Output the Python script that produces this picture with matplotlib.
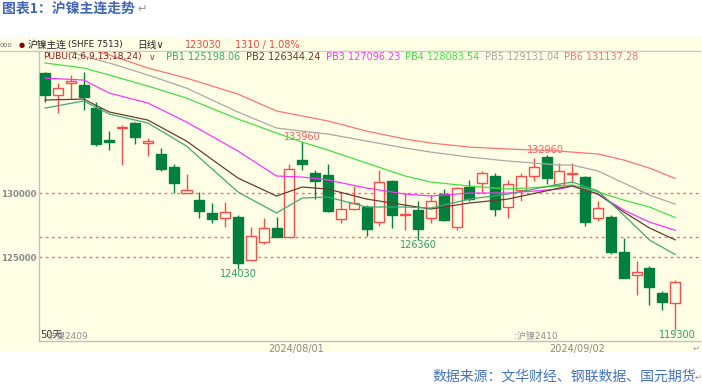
import numpy as np
import matplotlib
matplotlib.use("Agg")
import matplotlib.pyplot as plt
from matplotlib.lines import Line2D
from matplotlib.patches import Rectangle

plt.rcParams['font.family'] = ['DejaVu Sans', 'Noto Sans CJK SC']
plt.rcParams['axes.unicode_minus'] = False

# ---- data ----
opens = [139400, 137680, 138590, 138440, 136660, 134120, 135050, 135490, 133880, 133070,
         132050, 130020, 129450, 128460, 128020, 128100, 124770, 126200, 127240, 126590,
         132580, 131590, 131410, 127950, 128730, 128880, 127760, 130940, 128260, 128670,
         128020, 129900, 127370, 130490, 130760, 131330, 128930, 130230, 131350, 132840,
         130630, 131460, 131270, 128020, 128100, 125410, 123590, 124120, 122160, 121380]
highs = [139480, 138620, 139220, 139480, 137130, 134870, 135310, 135570, 134270, 133540,
         132240, 131460, 130100, 129200, 129320, 128280, 127370, 128020, 128150, 132240,
         133960, 131800, 132240, 129980, 130550, 129060, 131800, 131020, 129980, 129380,
         129840, 130290, 130450, 131020, 131720, 131590, 131020, 131540, 132710, 132960,
         132320, 132320, 131350, 129400, 128280, 126460, 124690, 124300, 122340, 123200]
lows = [137130, 136230, 137340, 136480, 133670, 133360, 132190, 133800, 132890, 131720,
        129980, 130020, 128070, 127630, 127370, 124030, 124770, 126020, 126590, 126590,
        131800, 129530, 128540, 127680, 128670, 126640, 127420, 127240, 127110, 126360,
        127680, 127840, 127110, 129400, 130020, 128200, 128020, 129400, 130960, 130700,
        130490, 130760, 127450, 127840, 125210, 123380, 122030, 121250, 120860, 119300]
closes = [137680, 138180, 138730, 137520, 133800, 133980, 135160, 134350, 134060, 131850,
          130760, 130210, 128590, 127950, 128540, 124510, 126660, 127240, 126590, 131850,
          132270, 130960, 128590, 128730, 129240, 127160, 130880, 128280, 128340, 127190,
          129400, 127890, 130370, 129510, 131540, 128750, 130700, 131350, 132050, 131150,
          131740, 131540, 127710, 128800, 125410, 123380, 123850, 122680, 121510, 123030]

# PUBU lines sampled at these candle indices
pb_idx = [0, 3, 5, 8, 11, 15, 18, 20, 22, 25, 28, 30, 33, 36, 40, 41, 43, 45, 47, 49]
pb1 = [136640, 137190, 136170, 135470, 133670, 130080, 128440, 129610, 129690, 128910,
       128910, 128830, 129530, 129920, 130700, 130860, 130160, 128280, 126330, 125198]
pb2 = [137270, 137340, 136330, 135700, 134060, 131170, 129770, 130470, 130310, 129530,
       129060, 128750, 129220, 129530, 130390, 130550, 129920, 128520, 127270, 126344]
pb3 = [138980, 138830, 137810, 137030, 135550, 133280, 131330, 131250, 131020, 130390,
       129920, 129770, 130000, 130000, 130310, 130550, 129920, 128670, 127730, 127096]
pb4 = [140160, 139770, 139220, 138360, 137420, 135780, 134690, 133980, 133360, 132340,
       131330, 130860, 130550, 130310, 130550, 130630, 130080, 129450, 128910, 128084]
pb5 = [141640, 140700, 140160, 139220, 138200, 136330, 135080, 134840, 134610, 134060,
       133520, 133200, 132810, 132500, 132190, 132190, 131720, 130780, 129840, 129131]
pb6 = [142730, 141410, 140780, 139770, 138980, 137730, 136410, 136020, 135630, 134840,
       134220, 133910, 133590, 133440, 133280, 133200, 133050, 132580, 131950, 131137]

ref_levels = [130000, 126560, 125000]
ytick_vals = [125000, 130000]
date_pos = [19.5, 41.4]
date_labels = ['2024/08/01', '2024/09/02']

bg = '#FFFFE6'
up_col = '#FF4A4A'
dn_col = '#00803C'
pb_cols = ['#3DAA72', '#6A3A30', '#FF33FF', '#44E044', '#A8A8A8', '#FF7272']

W, H = 702, 389
fig = plt.figure(figsize=(W / 100, H / 100), dpi=100)


def fx(x):
    return x / W


def fy(y):
    return 1 - y / H


# yellow panel behind everything
fig.patches.append(Rectangle((0, fy(352)), 1, fy(37) - fy(352), transform=fig.transFigure,
                             facecolor=bg, edgecolor='none', zorder=-5))
fig.lines.append(Line2D([0, fx(700)], [fy(51), fy(51)], transform=fig.transFigure,
                        color='#C8C8C8', lw=1, zorder=-4))

ax = fig.add_axes([fx(39), fy(341), fx(700) - fx(39), fy(52) - fy(341)])
ax.set_facecolor(bg)
ax.set_xlim(-0.47, 50.93)
ax.set_ylim(118440, 141020)
for s in ['top', 'right']:
    ax.spines[s].set_visible(False)
for s in ['left', 'bottom']:
    ax.spines[s].set_color('#C0C0C0')
    ax.spines[s].set_linewidth(1)

for v in ref_levels:
    ax.axhline(v, color='#FF6A6A', lw=1, linestyle=(0, (2, 2.5)), zorder=1)

# candles
for i in range(len(opens)):
    o, h, l, c = opens[i], highs[i], lows[i], closes[i]
    col = up_col if c >= o else dn_col
    ax.vlines(i, l, h, color=col, lw=1, zorder=2)
    bot = min(o, c)
    ht = max(abs(c - o), 60)
    if c >= o:
        ax.bar(i, ht, bottom=bot, width=0.78, facecolor=bg, edgecolor=col, lw=1, zorder=3)
    else:
        ax.bar(i, ht, bottom=bot, width=0.78, facecolor=col, edgecolor=col, lw=1, zorder=3)

for vals, col in zip([pb6, pb5, pb4, pb3, pb2, pb1], pb_cols[::-1]):
    ax.plot(pb_idx, vals, color=col, lw=0.9, zorder=4)

ax.set_yticks(ytick_vals)
ax.set_yticklabels([str(v) for v in ytick_vals], fontsize=6.2, color='#8A8A8A', fontweight='bold')
ax.set_xticks(date_pos)
ax.set_xticklabels(date_labels, fontsize=7, color='#8A8A8A')
ax.tick_params(length=0, pad=2)

# high / low marks
ax.text(20, 133960, '133960', color='#FF5A5A', fontsize=7, ha='center', va='bottom')
ax.text(38.9, 132960, '132960', color='#FF5A5A', fontsize=7, ha='center', va='bottom')
ax.text(15, 124030, '124030', color='#2E9E6A', fontsize=7, ha='center', va='top')
ax.text(29, 126360, '126360', color='#2E9E6A', fontsize=7, ha='center', va='top')
ax.text(49.2, 119300, '119300', color='#2E9E6A', fontsize=7, ha='center', va='top',
        clip_on=False)

# header rows
fig.text(fx(0), fy(45), 'ooo', fontsize=5, color='#707070', va='center')
fig.text(fx(19), fy(45), '●', fontsize=5, color='#800000', va='center')
fig.text(fx(28), fy(45), '沪镍主连', fontsize=7, color='#202020', va='center')
fig.text(fx(68), fy(45), '(SHFE 7513)', fontsize=6.3, color='#202020', va='center')
fig.text(fx(137), fy(45), '日线∨', fontsize=7, color='#202020', va='center')
fig.text(fx(185), fy(45), '123030', fontsize=7, color='#FF4040', va='center')
fig.text(fx(235), fy(45), '1310 / 1.08%', fontsize=7, color='#FF4040', va='center')

fig.text(fx(43), fy(57), 'PUBU(4,6,9,13,18,24)', fontsize=6.6, color='#A01818', va='center')
fig.text(fx(149), fy(57), '∨', fontsize=6.6, color='#D03030', va='center')
pb_labels = ['PB1 125198.06', 'PB2 126344.24', 'PB3 127096.23',
             'PB4 128083.54', 'PB5 129131.04', 'PB6 131137.28']
pb_text_x = [166, 246, 326, 405, 485, 564]
for lab, xx, col in zip(pb_labels, pb_text_x, pb_cols):
    fig.text(fx(xx), fy(57), lab, fontsize=7, color=col, va='center')

# contract marks
fig.text(fx(40), fy(335), '50天', fontsize=7, color='#303030', va='center')
fig.text(fx(48), fy(337), '沪镍2409', fontsize=6.5, color='#909090', va='center')
fig.text(fx(514), fy(337), ':沪镍2410', fontsize=6.5, color='#909090', va='center')
fig.text(fx(693), fy(348), '↵', fontsize=6, color='#A0A0A0', va='center')

# title and source
fig.text(fx(2), fy(9), '图表1：沪镍主连走势', fontsize=10, color='#3F66B8',
         fontweight='bold', va='center', family=['Noto Sans CJK SC', 'DejaVu Sans'])
fig.text(fx(137), fy(9), '↵', fontsize=8, color='#909090', va='center')
fig.text(fx(432), fy(377), '数据来源：文华财经、钢联数据、国元期货', fontsize=10,
         color='#4472C4', va='center', family=['Noto Sans CJK SC', 'DejaVu Sans'])
fig.text(fx(695), fy(377), '↵', fontsize=6, color='#909090', va='center')

fig.savefig('out.png', dpi=100, facecolor='white')
